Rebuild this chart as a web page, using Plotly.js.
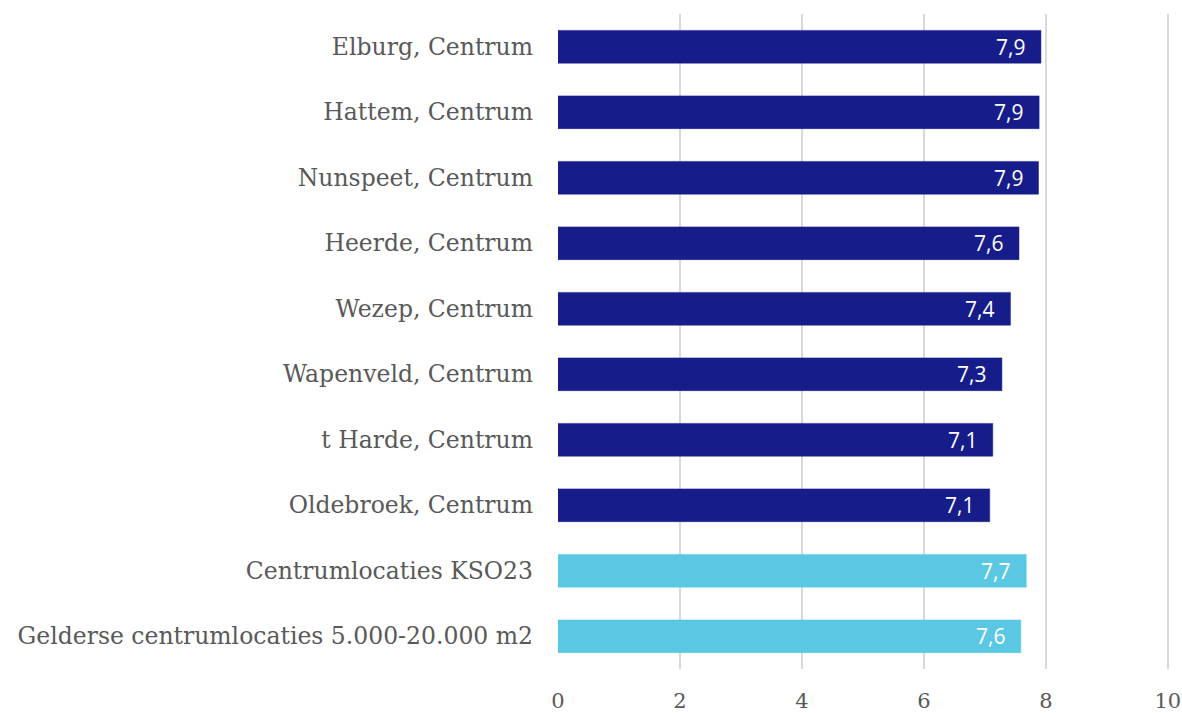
<!DOCTYPE html>
<html><head><meta charset="utf-8">
<script src="https://cdn.plot.ly/plotly-3.0.1.min.js"></script>
<style>html,body{margin:0;padding:0;background:#fff}#chart{width:1182px;height:713px}</style>
</head><body><div id="chart"></div>
<script>
var categories = ["Elburg, Centrum","Hattem, Centrum","Nunspeet, Centrum","Heerde, Centrum","Wezep, Centrum","Wapenveld, Centrum","t Harde, Centrum","Oldebroek, Centrum","Centrumlocaties KSO23","Gelderse centrumlocaties 5.000-20.000 m2"];
var values = [7.92, 7.89, 7.88, 7.56, 7.42, 7.28, 7.13, 7.08, 7.68, 7.59];
var barColors = ["#161D8A","#161D8A","#161D8A","#161D8A","#161D8A","#161D8A","#161D8A","#161D8A","#5BC8E3","#5BC8E3"];
var tickVals = [0,2,4,6,8,10];
var labels = values.map(function(v){return v.toFixed(1).replace('.', ',');});

var trace = {
  type: 'bar', orientation: 'h',
  x: values, y: categories,
  marker: {color: barColors, line: {color: barColors, width: 0.5}},
  hoverinfo: 'none'
};
var annotations = values.map(function(v, i){
  return {x: v, y: categories[i], xref: 'x', yref: 'y', text: labels[i],
    showarrow: false, xanchor: 'right', yanchor: 'middle', xshift: -14,
    font: {family: 'Open Sans', size: 21, color: '#ffffff'}};
});
var layout = {
  width: 1182, height: 713,
  margin: {l: 558, r: 13, t: 14, b: 44},
  paper_bgcolor: '#ffffff', plot_bgcolor: '#ffffff',
  bargap: 0.5, showlegend: false,
  annotations: annotations,
  xaxis: {range: [0, 10.02], tickvals: tickVals, ticktext: tickVals.map(String),
    showgrid: true, gridcolor: '#D9D9D9', gridwidth: 2, zeroline: false,
    showline: false, ticks: '', ticklen: 0, ticklabelstandoff: 17,
    ticklabeloverflow: 'allow',
    tickfont: {family: 'DejaVu Serif', size: 21, color: '#595959'}},
  yaxis: {autorange: 'reversed', showgrid: false, zeroline: false, showline: false,
    ticks: '', ticklabelstandoff: 24,
    tickfont: {family: 'DejaVu Serif', size: 23.5, color: '#595959'}}
};
Plotly.newPlot('chart', [trace], layout, {displayModeBar: false, staticPlot: true});
</script></body></html>
